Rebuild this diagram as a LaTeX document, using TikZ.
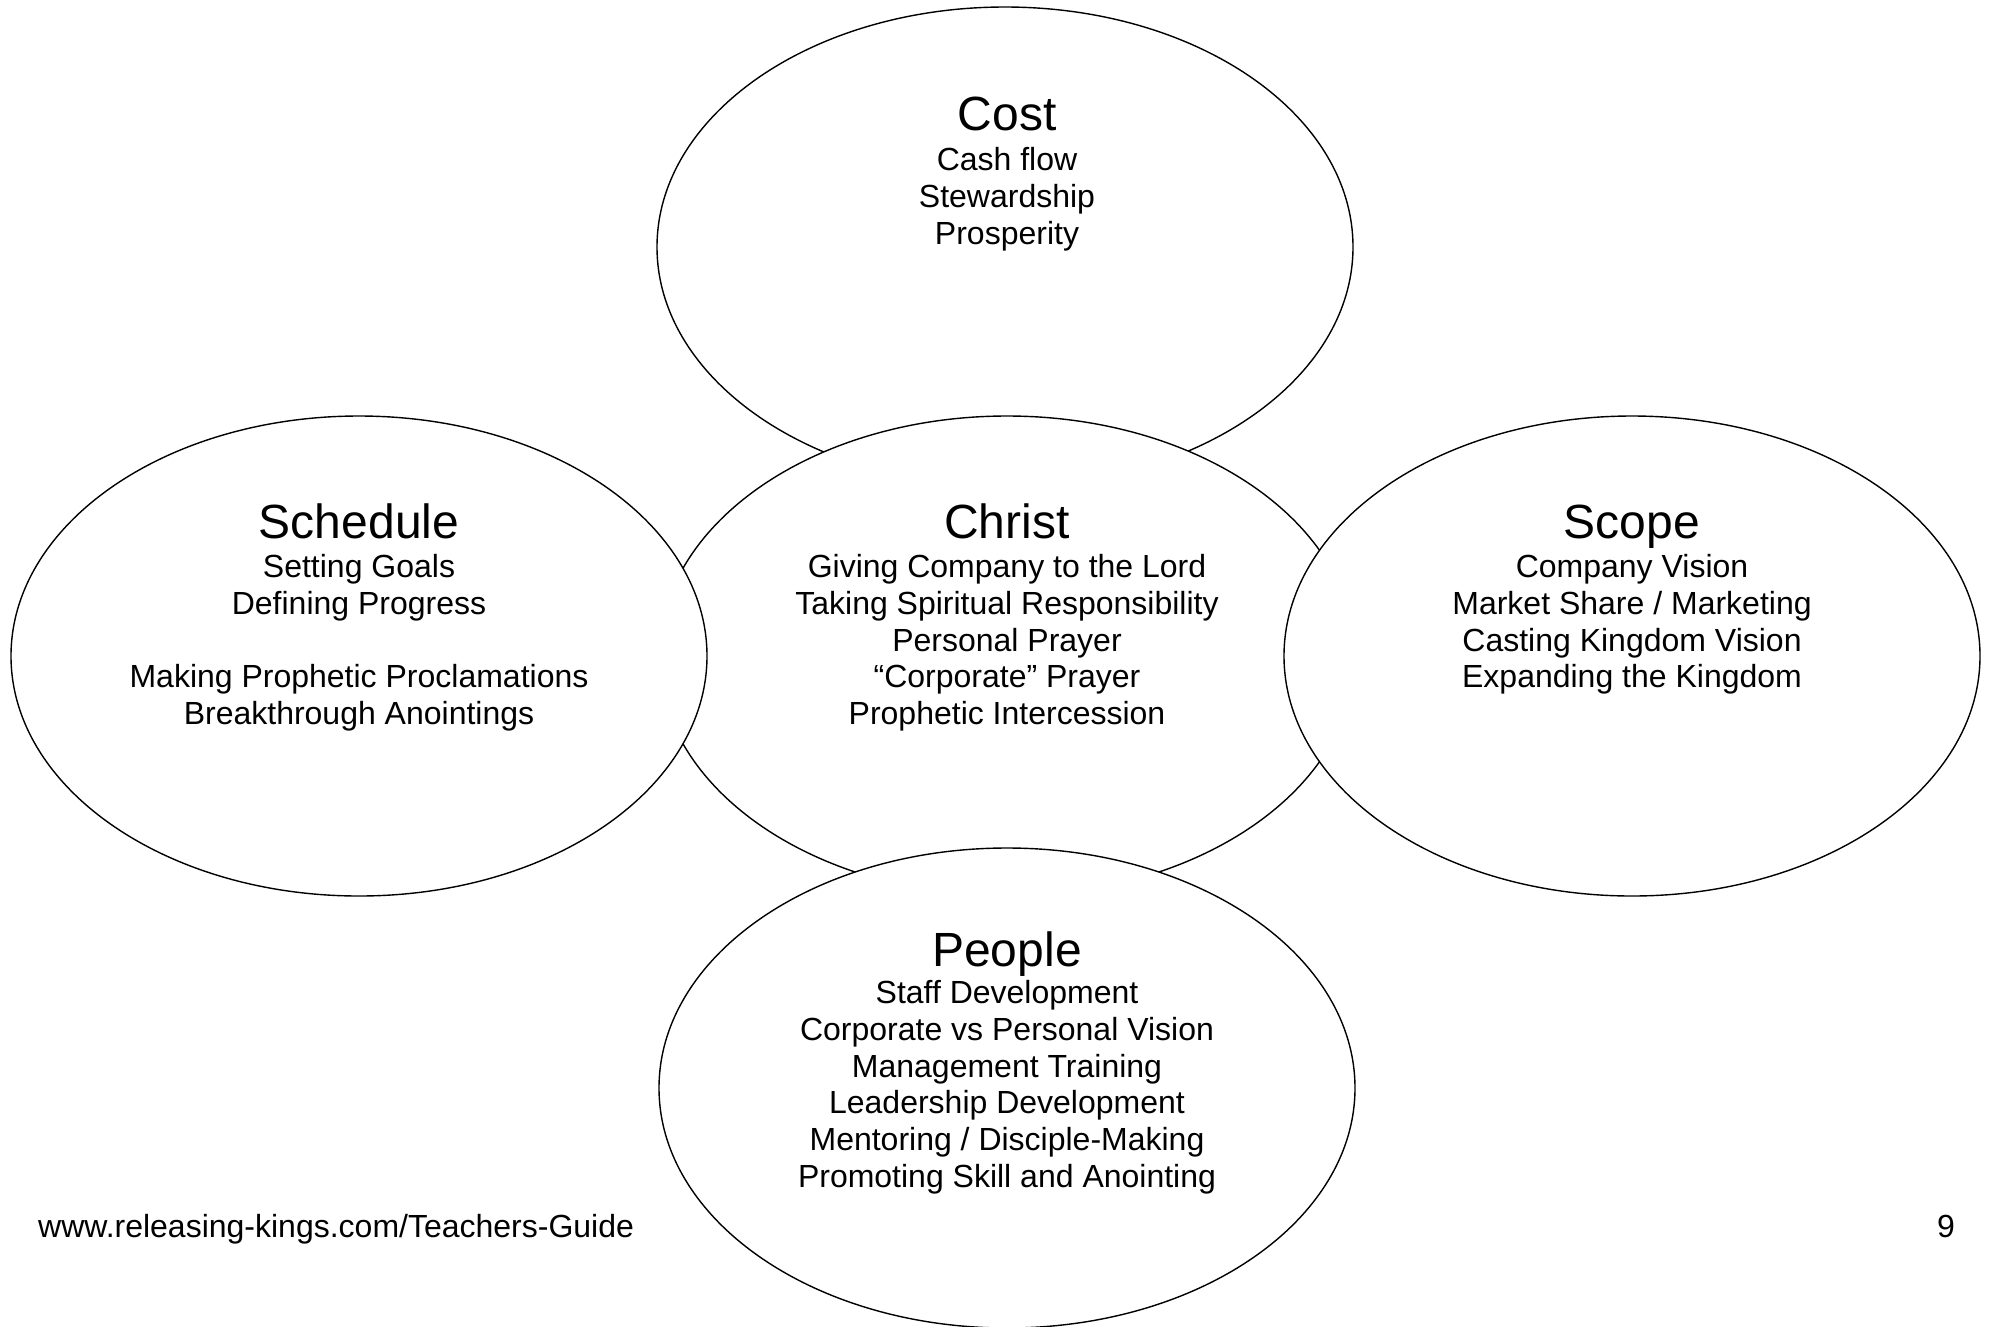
\documentclass[tikz,border=0pt]{standalone}
\usepackage{fontspec}
\setmainfont{Liberation Sans}
\usetikzlibrary{shapes.geometric}
\tikzset{
  bubble/.style={ellipse,draw=black,fill=white,line width=1.4pt,
    minimum width=696pt,minimum height=480pt,inner sep=0pt},
  heading/.style={anchor=base,inner sep=0pt,font=\fontsize{48}{55}\selectfont},
  items/.style={anchor=north,inner sep=0pt,align=center,
    font=\fontsize{32}{36.9}\selectfont},
  footer/.style={inner sep=0pt,font=\fontsize{32}{36.9}\selectfont},
}
\newcommand{\firstline}{\rule{0pt}{25pt}}

\begin{document}
\begin{tikzpicture}[x=1pt,y=-1pt]
\useasboundingbox (0,0) rectangle (1989,1326);
% the five bubbles, back to front
\node[bubble] (cost) at (1005,247) {};
\node[bubble] (christ) at (1007,656) {};
\node[bubble] (schedule) at (359,656) {};
\node[bubble] (scope) at (1632,656) {};
\node[bubble] (people) at (1007,1088) {};
% texts
\node[heading] (costT) at (1007,130) {Cost};
\node[items] (costL) at (1007,145) {\firstline Cash flow\\Stewardship\\Prosperity};
\node[heading] (christT) at (1007,538) {Christ};
\node[items] (christL) at (1007,552) {\firstline Giving Company to the Lord\\
  Taking Spiritual Responsibility\\Personal Prayer\\“Corporate” Prayer\\
  Prophetic Intercession};
\node[heading] (scheduleT) at (359,538) {Schedule};
\node[items] (scheduleL) at (359,552) {\firstline Setting Goals\\Defining Progress\\[36.9pt]
  Making Prophetic Proclamations\\Breakthrough Anointings};
\node[heading] (scopeT) at (1632,538) {Scope};
\node[items] (scopeL) at (1632,552) {\firstline Company Vision\\Market Share / Marketing\\
  Casting Kingdom Vision\\Expanding the Kingdom};
\node[heading] (peopleT) at (1007,966) {People};
\node[items] (peopleL) at (1007,978) {\firstline Staff Development\\
  Corporate vs Personal Vision\\Management Training\\Leadership Development\\
  Mentoring / Disciple-Making\\Promoting Skill and Anointing};
% page footer
\node[footer,anchor=base west] (url) at (38,1237) {www.releasing-kings.com/Teachers-Guide};
\node[footer,anchor=base east] (page) at (1955,1237) {9};
\end{tikzpicture}
\end{document}
